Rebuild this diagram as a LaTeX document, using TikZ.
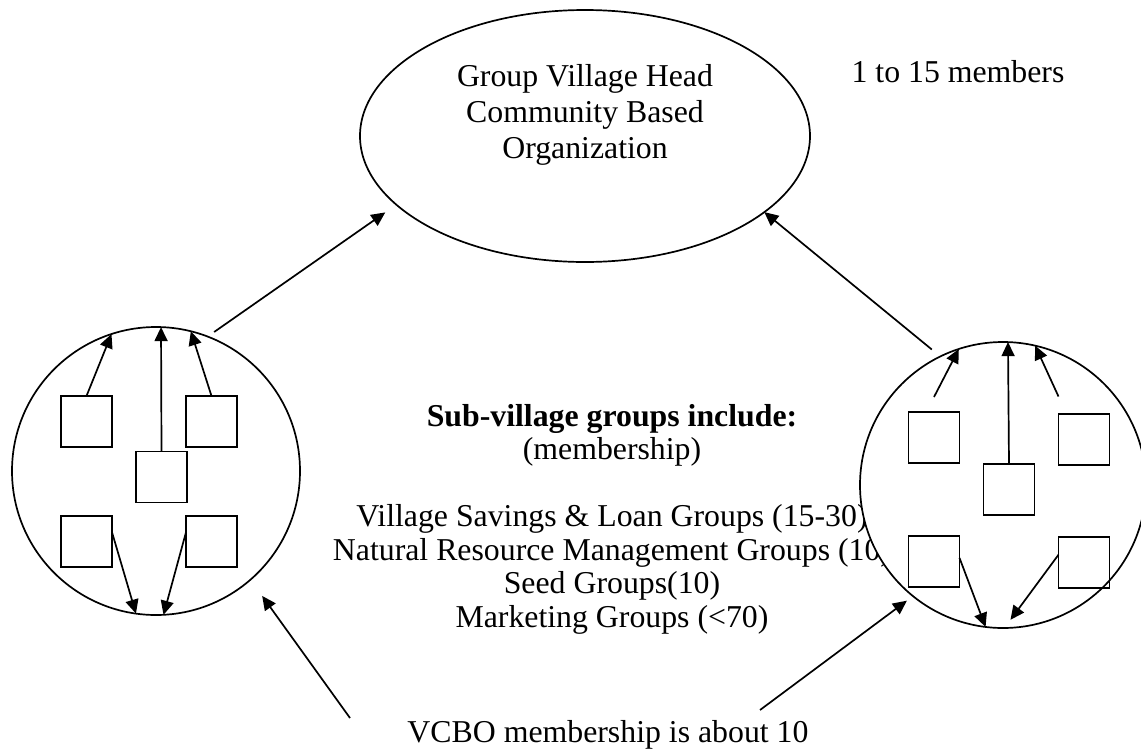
\documentclass[tikz,border=0pt]{standalone}
\usepackage{fontspec}
\setmainfont{Liberation Serif}
\usepackage{tikz}
\usetikzlibrary{arrows.meta,shapes.geometric}

\begin{document}
\begin{tikzpicture}[
      x=0.5pt, y=-0.5pt,
      line width=0.85pt,
      every node/.style={font=\fontsize{15.9}{16.75}\selectfont,inner sep=0pt,outer sep=0pt},
      ring/.style={circle,draw,fill=white,minimum size=#1},
      sqbox/.style={rectangle,draw,minimum size=25.5pt},
      arr/.style={-{Triangle[length=7pt,width=6.5pt]}}]
    \useasboundingbox (0,0) rectangle (1141,750);
    \node[ellipse,draw,minimum width=225pt,minimum height=126pt] (gvh) at (585,136) {};
    \node[align=center,font=\fontsize{15.9}{18}\selectfont] (gvhtext) at (585,115)
      {Group Village Head\\Community Based\\Organization};
    \node (members) at (958,72) {1 to 15 members};
    \node[align=center] (subgroups) at (612,519)
      {\textbf{Sub-village groups include:}\\(membership)\\[16.75pt]
       Village Savings \& Loan Groups (15-30)\\Natural Resource Management Groups (10)\\
       Seed Groups(10)\\Marketing Groups (<70)};
    \node (vcbo) at (608,735) {VCBO membership is about 10};
    \node[ring=144pt] (lc) at (156,471) {};
    \node[ring=143pt] (rc) at (1003,485) {};
    \node[sqbox] (lA) at (86.5,421.5) {};
    \node[sqbox] (lB) at (211.5,421.5) {};
    \node[sqbox] (lC) at (161.5,477) {};
    \node[sqbox] (lD) at (86.5,541.5) {};
    \node[sqbox] (lE) at (211.5,541.5) {};
    \node[sqbox] (rA) at (934,437.5) {};
    \node[sqbox] (rB) at (1084,439.5) {};
    \node[sqbox] (rC) at (1009,489.5) {};
    \node[sqbox] (rD) at (934,561.5) {};
    \node[sqbox] (rE) at (1084,562.5) {};
    \draw[arr] (lA.north) -- (lc.108);
    \draw[arr] (lC.north) -- (lc.88);
    \draw[arr] (lB.north) -- (lc.76);
    \draw[arr] (lD.20) -- (lc.-98);
    \draw[arr] (lE.160) -- (lc.-87);
    \draw[arr] ([yshift=7.5pt]rA.north) -- (rc.108);
    \draw[arr] (rC.north) -- (rc.88);
    \draw[arr] ([yshift=8.75pt]rB.north west) -- (rc.77);
    \draw[arr] (rD.8) -- (rc.-97);
    \draw[arr] (rE.163) -- ([yshift=4pt]rc.-87);
    \draw[arr,shorten <=4pt,shorten >=6.75pt] (lc.69) -- (gvh.200);
    \draw[arr,shorten <=5.5pt] (rc.116) -- (gvh.-23.5);
    \coordinate (vcbol) at (350,718);
    \coordinate (vcbor) at (760,710);
    \draw[arr,shorten >=10pt] (vcbol) -- (lc.-49);
    \draw[arr,shorten >=3.8pt] (vcbor) -- (rc.-129);
\end{tikzpicture}
\end{document}
